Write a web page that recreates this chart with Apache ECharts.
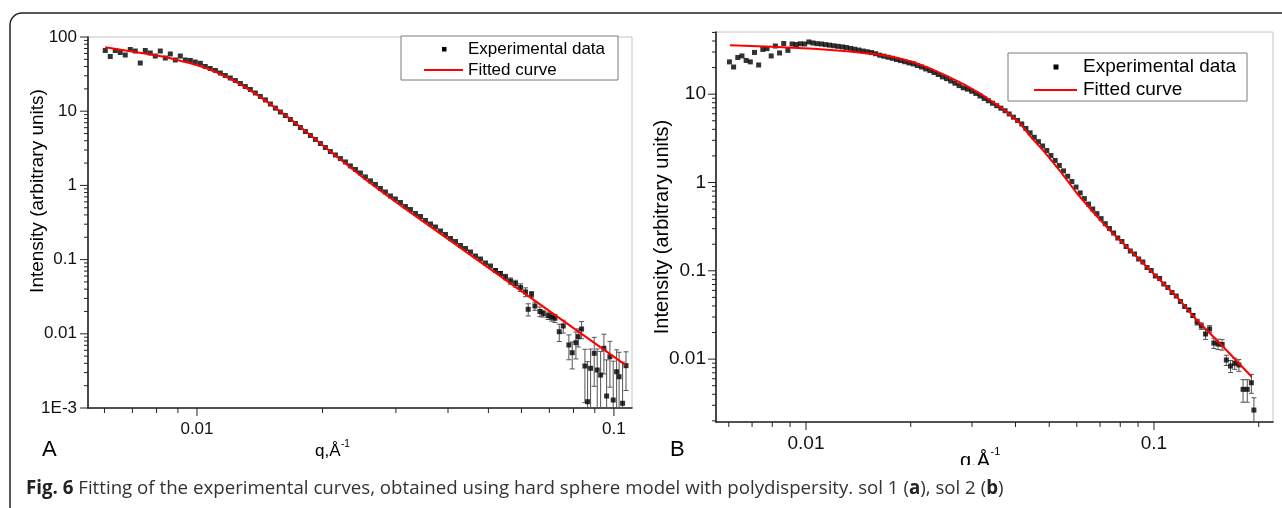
<!DOCTYPE html>
<html><head><meta charset="utf-8">
<script src="https://cdn.jsdelivr.net/npm/echarts@6.0.0/dist/echarts.min.js"></script>
<style>html,body{margin:0;padding:0;background:#fff}#chart{width:1282px;height:508px}</style>
</head><body><div id="chart"></div>
<script>
// ---------------- Panel A data ----------------
const qA = [0.006026,0.006194,0.006368,0.006546,0.006730,0.006918,0.007112,0.007311,0.007516,0.007727,
0.007943,0.008166,0.008395,0.008630,0.008872,0.009120,0.009376,0.009638,0.009908,0.01019,
0.01047,0.01076,0.01107,0.01138,0.01169,0.01202,0.01236,0.01271,0.01306,0.01343,
0.01380,0.01419,0.01459,0.01500,0.01542,0.01585,0.01629,0.01675,0.01722,0.01770,
0.01820,0.01871,0.01923,0.01977,0.02032,0.02089,0.02148,0.02208,0.02270,0.02333,
0.02399,0.02466,0.02535,0.02606,0.02679,0.02754,0.02831,0.02911,0.02992,0.03076,
0.03162,0.03251,0.03342,0.03436,0.03532,0.03631,0.03733,0.03837,0.03945,0.04055,
0.04169,0.04285,0.04406,0.04529,0.04656,0.04786,0.04920,0.05058,0.05200,0.05346,
0.05495,0.05649,0.05808,0.05970,0.06138,
0.06229,0.06346,0.06464,0.06644,0.06767,0.06955,0.07088,0.07219,0.07394,0.07559,
0.07798,0.07943,0.08107,0.08210,0.08365,0.08520,0.08647,0.08792,0.08969,0.09120,
0.09292,0.09462,0.09605,0.09781,0.09961,0.1015,0.1029,0.1049,0.1069];
const iA = [65.8,54.6,65.8,61.8,57.2,67.8,64.7,44.6,65.8,60.9,
55.4,64.7,52.1,59.0,49.0,55.4,49.0,48.2,46.0,44.2,
40.0,37.6,35.4,32.7,30.3,28.0,25.9,23.6,21.5,19.6,
17.6,15.8,14.2,12.5,11.0,9.75,8.75,7.73,6.83,6.03,
5.32,4.70,4.16,3.67,3.24,2.86,2.57,2.30,2.07,1.83,
1.64,1.47,1.30,1.15,1.03,0.908,0.815,0.720,0.656,0.588,
0.519,0.473,0.418,0.381,0.337,0.302,0.275,0.243,0.218,0.1925,
0.1754,0.1549,0.1411,0.1266,0.1118,0.1019,0.0900,0.0820,0.0713,0.0650,
0.0583,0.0515,0.0476,0.0421,0.0366,
0.02139,0.03406,0.02370,0.0200,0.0188,0.0176,0.0168,0.0162,0.01067,0.01274,
0.00707,0.00556,0.00759,0.00914,0.01160,0.00368,0.001216,0.00343,0.00546,0.00325,
0.00278,0.00638,0.00145,0.00491,0.00128,0.00308,0.00264,0.001157,0.00372];
// error (sigma) of the last points of panel A
const errA = [0.004,0.004,0.005,0.005,0.005,0.005,0.005,
0.004,0.003,0.003,0.003,0.002,0.002,0.002,0.002,0.0028,0.0025,
0.0026,0.0022,0.003,0.0025,0.003,0.0025,0.003,0.0028,0.0035,0.003,
0.003,0.0035,0.003,0.003,0.003,0.003,0.003,0.003,0.002];
const qFitA = [0.006026,0.006918,0.007943,0.008395,0.009120,0.009638,0.01047,0.01107,0.01202,0.01271,
0.01380,0.01459,0.01585,0.01675,0.01820,0.01923,0.02089,0.02208,0.02399,0.02535,
0.02754,0.03162,0.03631,0.04169,0.04786,0.05495,0.06310,0.07244,0.08318,0.09550,0.1067];
const iFitA = [72.6,64.4,56.9,53.8,47.8,44.2,38.5,33.8,27.3,23.0,
17.3,13.9,9.91,7.85,5.41,4.19,2.86,2.23,1.54,1.20,
0.848,0.482,0.2785,0.1603,0.0925,0.0533,0.03075,0.0177,0.01022,0.00588,0.00379];

// ---------------- Panel B data ----------------
const qB = [0.006026,0.006194,0.006368,0.006546,0.006730,0.006918,0.007112,0.007311,0.007516,0.007727,
0.007943,0.008166,0.008395,0.008630,0.008872,0.009120,0.009376,0.009638,0.009908,0.01019,
0.01047,0.01076,0.01107,0.01138,0.01169,0.01202,0.01236,0.01271,0.01306,0.01343,
0.01380,0.01419,0.01459,0.01500,0.01542,0.01585,0.01629,0.01675,0.01722,0.01770,
0.01820,0.01871,0.01923,0.01977,0.02032,0.02089,0.02148,0.02208,0.02270,0.02333,
0.02399,0.02466,0.02535,0.02606,0.02679,0.02754,0.02831,0.02911,0.02992,0.03076,
0.03162,0.03251,0.03342,0.03436,0.03532,0.03631,0.03733,0.03837,0.03945,0.04055,
0.04169,0.04285,0.04406,0.04529,0.04656,0.04786,0.04920,0.05058,0.05200,0.05346,
0.05495,0.05649,0.05808,0.05970,0.06138,0.06310,0.06486,0.06668,0.06855,0.07047,
0.07244,0.07447,0.07656,0.07870,0.08091,0.08318,0.08551,0.08790,0.09036,0.09290,
0.09550,0.09817,0.1009,0.1038,0.1067,0.1096,0.1127,0.1159,0.1191,0.1225,
0.1259,0.1294,0.1330,0.1368,0.1406,0.1445,0.1486,0.1528,0.1570,0.1614,
0.1660,0.1706,0.1754,0.1803,0.1854,0.1905,0.1937];
const iB = [23.2,20.3,26.0,27.1,24.1,23.2,29.7,21.4,32.1,32.8,
27.1,35.1,29.3,37.5,31.3,37.0,36.5,37.2,37.0,39.0,
38.0,37.3,37.0,36.4,35.9,35.3,34.8,34.3,33.8,33.0,
32.3,31.6,30.8,30.2,29.6,28.7,27.6,26.9,26.2,25.5,
24.7,24.0,23.3,22.6,22.0,21.1,20.3,19.3,18.5,17.6,
16.7,15.7,15.0,14.1,13.3,12.5,11.8,11.4,10.8,10.2,
9.54,8.94,8.42,7.89,7.41,6.94,6.49,5.97,5.49,5.04,
4.60,4.09,3.65,3.25,2.90,2.59,2.30,2.02,1.775,1.557,
1.353,1.176,1.026,0.887,0.762,0.657,0.569,0.501,0.444,0.390,
0.3415,0.3014,0.268,0.2352,0.2147,0.1884,0.1676,0.155,0.136,0.1258,
0.109,0.1008,0.0873,0.0818,0.0709,0.0647,0.0568,0.0518,0.0449,0.0394,
0.0360,0.0312,0.0263,0.0237,0.01924,0.02193,0.01522,0.01483,0.01464,0.00977,
0.00835,0.00896,0.00858,0.00455,0.00455,0.0054,0.00265];
const errB = [0.0015,0.0015,0.002,0.002,0.0025,0.002,0.002,0.002,0.002,
0.0013,0.0013,0.0013,0.0013,0.0013,0.0013,0.0013,0.001];
const qFitB = [0.00605,0.00799,0.01054,0.01311,0.0164,0.01826,0.02043,0.02272,0.02547,0.02844,
0.03177,0.03707,0.0412,0.04452,0.04807,0.05369,0.05997,0.06692,0.07472,0.0853,
0.1018,0.1162,0.1327,0.1581,0.1909];
const iFitB = [35.8,34.4,32.7,30.6,28.0,25.8,23.0,19.6,16.0,12.9,
10.1,6.68,4.68,3.2,2.3,1.35,0.76,0.46,0.285,0.172,
0.0857,0.0509,0.0277,0.0138,0.00632];

// ---------------- tick labels ----------------
const xTickValsA = [0.01, 0.1], xTickLabelsA = ['0.01', '0.1'];
const yTickValsA = [0.001, 0.01, 0.1, 1, 10, 100], yTickLabelsA = ['1E-3', '0.01', '0.1', '1', '10', '100'];
const xTickValsB = [0.01, 0.1], xTickLabelsB = ['0.01', '0.1'];
const yTickValsB = [0.01, 0.1, 1, 10], yTickLabelsB = ['0.01', '0.1', '1', '10'];

const seriesNames = ['Experimental data', 'Fitted curve'];
const caption = ['Fig. 6', ' Fitting of the experimental curves, obtained using hard sphere model with polydispersity. sol 1 (', 'a', '), sol 2 (', 'b', ')'];

// axis ranges
const xRangeA = [0.005478, 0.1105], yRangeA = [0.001, 100];
const xRangeB = [0.005513, 0.2198], yRangeB = [0.001941, 50.58];

// ---------------- helpers ----------------
const FONT = '"Liberation Sans", Arial, sans-serif';
function fmt(vals, labels) {
  return function (v) {
    const e = Math.log10(v);
    for (let i = 0; i < vals.length; i++) if (Math.abs(Math.log10(vals[i]) - e) < 1e-6) return labels[i];
    return '';
  };
}
function minors(lo, hi) {
  const out = [];
  for (let e = Math.floor(Math.log10(lo)); e <= Math.ceil(Math.log10(hi)); e++)
    for (let m = 2; m <= 9; m++) { const v = m * Math.pow(10, e); if (v >= lo * 1.0001 && v <= hi * 0.9999) out.push(v); }
  return out;
}
function pairs(x, y) { return x.map((v, i) => [v, y[i]]); }
function axisCfg(idx, range, vals, labels, fs, margin) {
  return { type: 'log', logBase: 10, gridIndex: idx, min: range[0], max: range[1],
    axisLine: { show: true, onZero: false, lineStyle: { color: '#222', width: 1.6 } },
    axisTick: { show: false }, splitLine: { show: false }, minorTick: { show: false },
    axisLabel: { formatter: fmt(vals, labels), fontSize: fs, fontFamily: FONT, color: '#111', margin: margin } };
}
function tickSeries(idx, xr, yr, xMaj, yMaj) {
  const xMin = minors(xr[0], xr[1]), yMin = minors(yr[0], yr[1]);
  return { type: 'custom', xAxisIndex: idx, yAxisIndex: idx, z: 6, silent: true, clip: false,
    data: [[xr[0], yr[0]]],
    renderItem: function (params, api) {
      const kids = [];
      const L = (x1, y1, x2, y2) => kids.push({ type: 'line', shape: { x1, y1, x2, y2 }, style: { stroke: '#222', lineWidth: 1 } });
      xMaj.forEach(v => { const p = api.coord([v, yr[0]]); L(p[0], p[1], p[0], p[1] + 8); });
      xMin.forEach(v => { const p = api.coord([v, yr[0]]); L(p[0], p[1], p[0], p[1] + 5); });
      yMaj.forEach(v => { const p = api.coord([xr[0], v]); L(p[0], p[1], p[0] - 8, p[1]); });
      yMin.forEach(v => { const p = api.coord([xr[0], v]); L(p[0], p[1], p[0] - 4, p[1]); });
      return { type: 'group', children: kids };
    } };
}
function errorSeries(idx, q, I, err, yFloor) {
  const off = q.length - err.length;
  const data = err.map((s, j) => [q[off + j], I[off + j], s]);
  return { type: 'custom', xAxisIndex: idx, yAxisIndex: idx, z: 2, silent: true, clip: false, data: data,
    renderItem: function (params, api) {
      const x = api.value(0), y = api.value(1), s = api.value(2);
      const st = { stroke: '#555', lineWidth: 1 };
      const top = api.coord([x, y + s]);
      const lo = y - s;
      const bot = api.coord([x, lo > yFloor ? lo : yFloor]);
      const c = 2.5;
      const kids = [
        { type: 'line', shape: { x1: top[0], y1: top[1], x2: bot[0], y2: bot[1] }, style: st },
        { type: 'line', shape: { x1: top[0] - c, y1: top[1], x2: top[0] + c, y2: top[1] }, style: st }
      ];
      if (lo > yFloor) kids.push({ type: 'line', shape: { x1: bot[0] - c, y1: bot[1], x2: bot[0] + c, y2: bot[1] }, style: st });
      return { type: 'group', children: kids };
    } };
}
function txt(x, y, text, size, extra, rot) {
  const el = { type: 'text', x: x, y: y, z: 120,
    style: Object.assign({ text: text, fill: '#000', font: size + 'px ' + FONT, align: 'left', verticalAlign: 'middle' }, extra || {}) };
  if (rot) el.rotation = rot;
  return el;
}

const option = {
  animation: false,
  backgroundColor: '#fff',
  grid: [
    { left: 88, top: 37, width: 544, height: 371, show: true, borderColor: '#c4c4c4', borderWidth: 1, backgroundColor: 'transparent' },
    { left: 716, top: 32, width: 557, height: 390, show: true, borderColor: '#c4c4c4', borderWidth: 1, backgroundColor: 'transparent' }
  ],
  xAxis: [ axisCfg(0, xRangeA, xTickValsA, xTickLabelsA, 17, 13), axisCfg(1, xRangeB, xTickValsB, xTickLabelsB, 19, 12) ],
  yAxis: [ axisCfg(0, yRangeA, yTickValsA, yTickLabelsA, 17, 11), axisCfg(1, yRangeB, yTickValsB, yTickLabelsB, 19, 10) ],
  series: [
    errorSeries(0, qA, iA, errA, yRangeA[0]),
    { name: seriesNames[0], type: 'scatter', xAxisIndex: 0, yAxisIndex: 0, symbol: 'rect', symbolSize: 5,
      itemStyle: { color: '#000' }, data: pairs(qA, iA), z: 3, silent: true },
    { name: seriesNames[1], type: 'line', xAxisIndex: 0, yAxisIndex: 0, showSymbol: false, smooth: false,
      lineStyle: { color: '#ff0000', width: 2, join: 'round' }, data: pairs(qFitA, iFitA), z: 4, silent: true },
    tickSeries(0, xRangeA, yRangeA, xTickValsA, yTickValsA),
    errorSeries(1, qB, iB, errB, yRangeB[0]),
    { name: seriesNames[0], type: 'scatter', xAxisIndex: 1, yAxisIndex: 1, symbol: 'rect', symbolSize: 5,
      itemStyle: { color: '#000' }, data: pairs(qB, iB), z: 3, silent: true },
    { name: seriesNames[1], type: 'line', xAxisIndex: 1, yAxisIndex: 1, showSymbol: false, smooth: false,
      lineStyle: { color: '#ff0000', width: 2, join: 'round' }, data: pairs(qFitB, iFitB), z: 4, silent: true },
    tickSeries(1, xRangeB, yRangeB, xTickValsB, yTickValsB)
  ],
  graphic: { elements: [
    // legend A
    { type: 'rect', z: 110, shape: { x: 401, y: 36, width: 217, height: 44 }, style: { fill: '#fff', stroke: '#7a7a7a', lineWidth: 1 } },
    { type: 'rect', z: 111, shape: { x: 442, y: 47, width: 4.5, height: 4.5 }, style: { fill: '#000' } },
    { type: 'line', z: 111, shape: { x1: 424, y1: 70, x2: 463, y2: 70 }, style: { stroke: '#ff0000', lineWidth: 2 } },
    txt(468, 49.5, seriesNames[0], 17),
    txt(468, 70.5, seriesNames[1], 17),
    // legend B
    { type: 'rect', z: 110, shape: { x: 1008, y: 53, width: 239, height: 48 }, style: { fill: '#fff', stroke: '#7a7a7a', lineWidth: 1 } },
    { type: 'rect', z: 111, shape: { x: 1053.5, y: 64.5, width: 5, height: 5 }, style: { fill: '#000' } },
    { type: 'line', z: 111, shape: { x1: 1034, y1: 90, x2: 1077, y2: 90 }, style: { stroke: '#ff0000', lineWidth: 2 } },
    txt(1083, 67, seriesNames[0], 19),
    txt(1083, 90, seriesNames[1], 19),
    // axis titles
    txt(37.5, 191, 'Intensity (arbitrary units)', 19, { align: 'center' }, Math.PI / 2),
    txt(662, 227, 'Intensity (arbitrary units)', 20, { align: 'center' }, Math.PI / 2),
    txt(315, 451, 'q,Å', 17),
    txt(341, 444, '-1', 10),
    txt(960, 461, 'q,Å', 20),
    txt(990.5, 452, '-1', 11),
    // panel letters
    txt(42, 450, 'A', 22),
    txt(670, 450, 'B', 22),
    // caption band
    { type: 'rect', z: 130, shape: { x: 12, y: 465, width: 1280, height: 50 }, style: { fill: '#fff' } },
    { type: 'text', z: 131, x: 26, y: 489, style: {
        text: '{b|' + caption[0] + '}' + caption[1] + '{b|' + caption[2] + '}' + caption[3] + '{b|' + caption[4] + '}' + caption[5],
        font: '18.7px "Open Sans", sans-serif', fill: '#333', verticalAlign: 'middle', align: 'left',
        rich: { b: { fontWeight: 'bold', fontFamily: '"Open Sans", sans-serif', fontSize: 18.7, fill: '#222', color: '#222' } } } },
    // outer frame
    { type: 'rect', z: 140, shape: { x: 10, y: 13, width: 1320, height: 560, r: 12 }, style: { fill: 'none', stroke: '#222', lineWidth: 1.5 } }
  ] }
};

const chart = echarts.init(document.getElementById('chart'), null, { renderer: 'canvas' });
chart.setOption(option);
</script></body></html>
